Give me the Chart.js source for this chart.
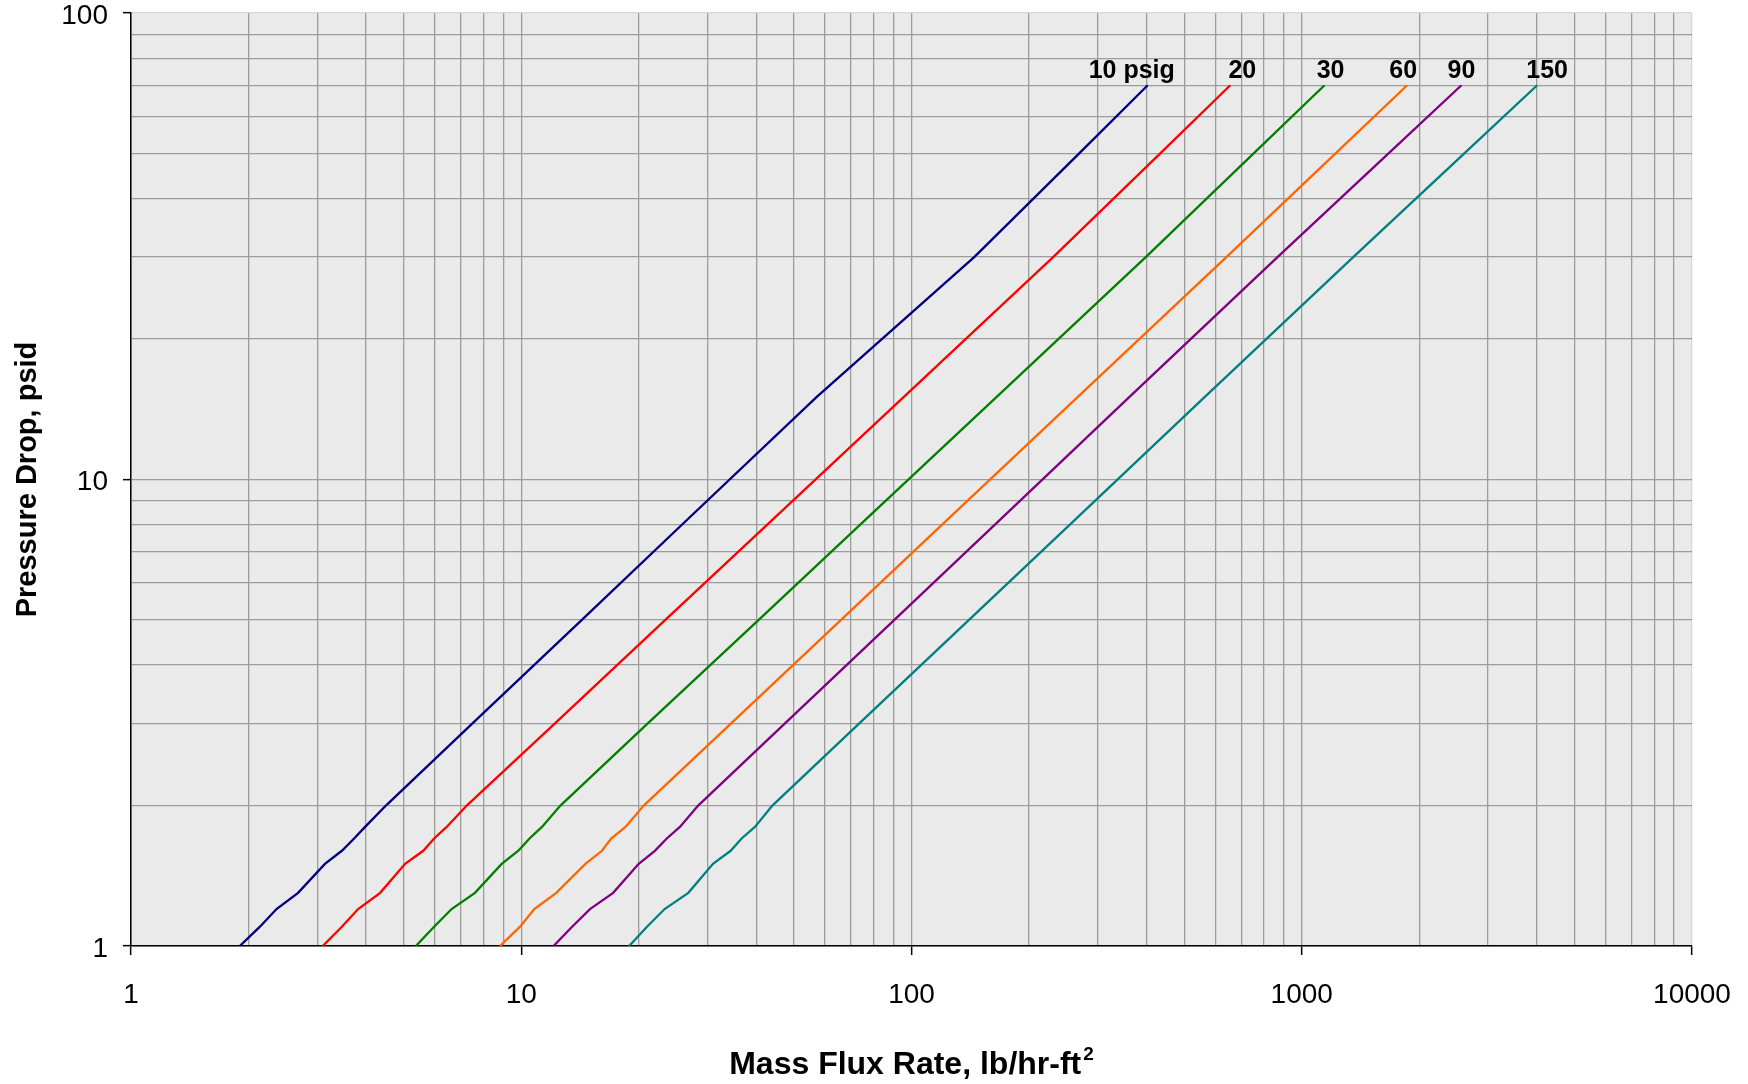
<!DOCTYPE html>
<html>
<head>
<meta charset="utf-8">
<script src="https://cdn.jsdelivr.net/npm/chart.js@4/dist/chart.umd.min.js"></script>
<style>
  html, body { margin: 0; padding: 0; background: #fff; }
  #wrap { width: 1748px; height: 1084px; }
</style>
</head>
<body>
<div id="wrap"><canvas id="dpChart" width="1748" height="1084"></canvas></div>
<script>
// pressure drop levels (psid) shared by all curves
const pressureDrop = [1, 1.1, 1.2, 1.3, 1.5, 1.6, 1.7, 1.8, 2, 3, 5, 8, 15, 30, 50, 70];

// mass flux (lb/hr-ft2) at those levels
const flux10  = [1.90, 2.14, 2.36, 2.68, 3.14, 3.47, 3.73, 3.98, 4.5, 7.5, 14.3, 25.8, 57, 145, 269, 403];
const flux20  = [3.10, 3.47, 3.82, 4.35, 5.04, 5.61, 5.98, 6.44, 7.25, 12.2, 23.4, 42.7, 95.3, 231, 434, 656];
const flux30  = [5.37, 5.98, 6.63, 7.61, 8.91, 9.83, 10.5, 11.3, 12.6, 21.1, 40.6, 73.9, 164.8, 399, 753, 1144];
const flux60  = [8.82, 9.93, 10.8, 12.3, 14.6, 16.1, 17.0, 18.5, 20.6, 34.5, 66.0, 119.8, 266, 642, 1221, 1863];
const flux90  = [12.1, 13.5, 15.0, 17.2, 20.0, 22.0, 23.6, 25.5, 28.4, 47.4, 90.4, 163.6, 360.8, 868, 1669, 2566];
const flux150 = [18.9, 21.0, 23.3, 26.8, 31.0, 34.4, 36.7, 39.7, 44.0, 73.5, 140.4, 254.6, 562.8, 1357, 2610, 4011];

const seriesLabels = ["10 psig", "20", "30", "60", "90", "150"];
const seriesFlux = [flux10, flux20, flux30, flux60, flux90, flux150];
const seriesColors = ["#000080", "#FF0000", "#008000", "#FF6600", "#800080", "#008080"];

// axis tick labels
const xTickLabels = [1, 10, 100, 1000, 10000];
const yTickLabels = [1, 10, 100];

// log grid positions 1..9 per decade
function logGrid(lo, hi) {
  const out = [];
  for (let d = lo; d < hi; d *= 10) {
    for (let m = 1; m < 10; m++) out.push(Math.round(m * d * 1000) / 1000);
  }
  out.push(hi);
  return out;
}
const xGrid = logGrid(1, 10000);
const yGrid = logGrid(1, 100);

const FONT = "'Liberation Sans', Arial, sans-serif";

const datasets = seriesFlux.map((flux, i) => ({
  label: seriesLabels[i],
  data: flux.map((x, k) => ({ x: x, y: pressureDrop[k] })),
  borderColor: seriesColors[i],
  backgroundColor: seriesColors[i],
  borderWidth: 2.3,
  pointRadius: 0,
  showLine: true,
  tension: 0
}));

const plotBackground = {
  id: 'plotBackground',
  beforeDraw(chart) {
    const { ctx, chartArea: a } = chart;
    ctx.save();
    ctx.fillStyle = '#fff';
    ctx.fillRect(0, 0, chart.width, chart.height);
    ctx.fillStyle = '#EAEAEA';
    ctx.fillRect(a.left, a.top, a.right - a.left, a.bottom - a.top);
    ctx.restore();
  }
};

// curve names at the top end of each line
const labelShift = [-16, 12, 6, -4, 0, 10];
const curveLabels = {
  id: 'curveLabels',
  afterDatasetsDraw(chart) {
    const { ctx } = chart;
    ctx.save();
    ctx.font = 'bold 25px ' + FONT;
    ctx.fillStyle = '#000';
    ctx.textAlign = 'center';
    ctx.textBaseline = 'alphabetic';
    chart.data.datasets.forEach((ds, i) => {
      const last = ds.data[ds.data.length - 1];
      const px = chart.scales.x.getPixelForValue(last.x);
      const py = chart.scales.y.getPixelForValue(last.y);
      ctx.fillText(ds.label, px + labelShift[i], py - 7);
    });
    ctx.restore();
  }
};

// x-axis title with a raised "2"
const xTitle = {
  id: 'xTitle',
  afterDraw(chart) {
    const { ctx, chartArea: a } = chart;
    const main = 'Mass Flux Rate, lb/hr-ft';
    const sup = '2';
    ctx.save();
    ctx.fillStyle = '#000';
    ctx.textBaseline = 'alphabetic';
    ctx.textAlign = 'left';
    ctx.font = 'bold 32px ' + FONT;
    const w1 = ctx.measureText(main).width;
    ctx.font = 'bold 19px ' + FONT;
    const w2 = ctx.measureText(sup).width;
    const x0 = (a.left + a.right) / 2 - (w1 + w2 + 2) / 2;
    ctx.font = 'bold 32px ' + FONT;
    ctx.fillText(main, x0, a.bottom + 128);
    ctx.font = 'bold 19px ' + FONT;
    ctx.fillText(sup, x0 + w1 + 2, a.bottom + 114);
    ctx.restore();
  }
};

new Chart(document.getElementById('dpChart'), {
  type: 'scatter',
  data: { datasets: datasets },
  plugins: [plotBackground, curveLabels, xTitle],
  options: {
    responsive: false,
    maintainAspectRatio: false,
    devicePixelRatio: 1,
    animation: false,
    layout: { padding: { left: 0, right: 56, top: 13, bottom: 0 } },
    plugins: {
      legend: { display: false },
      tooltip: { enabled: false },
      title: { display: false }
    },
    scales: {
      x: {
        type: 'logarithmic',
        min: 1,
        max: 10000,
        afterBuildTicks: s => { s.ticks = xGrid.map(v => ({ value: v })); },
        afterFit: s => { s.height = 138; s.paddingLeft = 0; s.paddingRight = 0; },
        ticks: {
          autoSkip: false,
          maxRotation: 0,
          padding: 23,
          color: '#000',
          font: { family: FONT, size: 28 },
          callback: v => xTickLabels.includes(v) ? String(v) : ''
        },
        grid: {
          color: c => (c.tick && c.tick.value === 10000) ? '#d6d6d6' : '#9c9c9c',
          lineWidth: 1.3,
          drawTicks: true,
          tickLength: 9,
          tickWidth: 1.5,
          tickColor: c => (c.tick && xTickLabels.includes(c.tick.value)) ? '#000' : 'rgba(0,0,0,0)'
        },
        border: { color: '#000', width: 1.5 },
        title: { display: false }
      },
      y: {
        type: 'logarithmic',
        min: 1,
        max: 100,
        afterBuildTicks: s => { s.ticks = yGrid.map(v => ({ value: v })); },
        afterFit: s => { s.width = 131; s.paddingTop = 0; s.paddingBottom = 0; },
        ticks: {
          autoSkip: false,
          padding: 15,
          labelOffset: 3,
          color: '#000',
          font: { family: FONT, size: 28 },
          callback: v => yTickLabels.includes(v) ? String(v) : ''
        },
        grid: {
          color: c => (c.tick && c.tick.value === 100) ? '#d6d6d6' : '#9c9c9c',
          lineWidth: 1.3,
          drawTicks: true,
          tickLength: 8,
          tickWidth: 1.5,
          tickColor: c => (c.tick && yTickLabels.includes(c.tick.value)) ? '#000' : 'rgba(0,0,0,0)'
        },
        border: { color: '#000', width: 1.5 },
        title: {
          display: true,
          text: 'Pressure Drop, psid',
          color: '#000',
          font: { family: FONT, size: 29, weight: 'bold' },
          padding: { top: 11, bottom: 0 }
        }
      }
    }
  }
});
</script>
</body>
</html>
